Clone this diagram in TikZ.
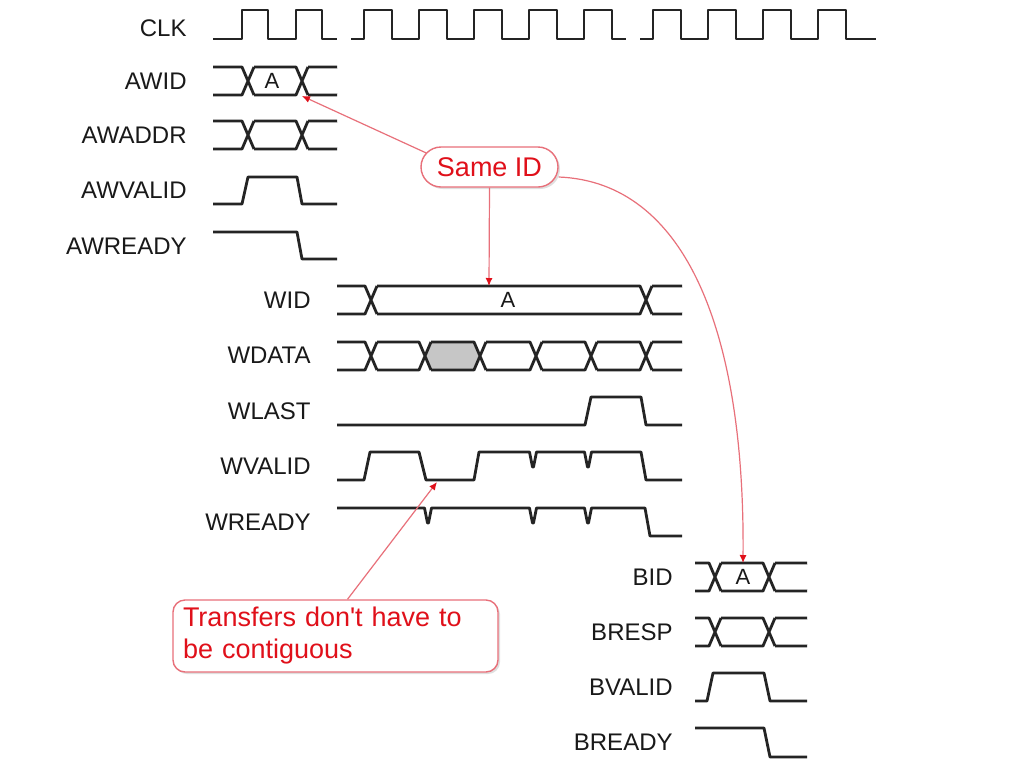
\documentclass[tikz,border=0pt]{standalone}
\usepackage{fontspec}
\setmainfont{Liberation Sans}
\usepackage{xcolor}
\usetikzlibrary{arrows.meta, shadows}

\definecolor{wave}{HTML}{242424}
\definecolor{notered}{HTML}{E0101A}
\definecolor{noteline}{HTML}{E8707A}

% bus lane: #1 top y, #2 start x, #3 end x, #4 crossings
\newcommand{\wavebus}[4]{%
  \begin{scope}
    \clip (#2,#1-4) rectangle (#3,#1+32);
    \foreach \c [remember=\c as \p (initially #2-6)] in {#4,#3+7}
      \draw[sig] (\p+6,#1) -- (\c-6,#1) -- (\c+6,#1+28)
                 (\p+6,#1+28) -- (\c-6,#1+28) -- (\c+6,#1);
  \end{scope}}

\begin{document}
\begin{tikzpicture}[
    x=0.5pt, y=-0.5pt,
    sig/.style={draw=wave, line width=1.4pt, line join=round},
    lbl/.style={anchor=east, inner sep=0pt, text=black!90, font=\fontsize{12}{14}\selectfont},
    val/.style={inner sep=0pt, text=black!90, font=\fontsize{11}{13}\selectfont},
    note/.style={draw=noteline, line width=0.7pt, fill=white, text=notered, rounded corners=10pt,
                 font=\fontsize{13.5}{16}\selectfont,
                 drop shadow={opacity=0.25, shadow xshift=1pt, shadow yshift=-1pt}},
    pointer/.style={draw=noteline, line width=0.6pt, -{Latex[length=4pt, width=3.5pt, color=notered]}}
]
    \fill[white] (0,0) rectangle (1029,767);
    \useasboundingbox (0,0) rectangle (1029,767);

    % signal names
    \node[lbl] (clk) at (187,28) {CLK};
    \node[lbl] (awid) at (187,81) {AWID};
    \node[lbl] (awaddr) at (187,135) {AWADDR};
    \node[lbl] (awvalid) at (187,190) {AWVALID};
    \node[lbl] (awready) at (187,246) {AWREADY};
    \node[lbl] (wid) at (311,300) {WID};
    \node[lbl] (wdata) at (311,355) {WDATA};
    \node[lbl] (wlast) at (311,411) {WLAST};
    \node[lbl] (wvalid) at (311,466) {WVALID};
    \node[lbl] (wready) at (311,522) {WREADY};
    \node[lbl] (bid) at (673,577) {BID};
    \node[lbl] (bresp) at (673,632) {BRESP};
    \node[lbl] (bvalid) at (673,687) {BVALID};
    \node[lbl] (bready) at (673,742) {BREADY};

    % clock
    \draw[sig] (213,39) foreach \r in {242,296} {-- (\r,39) -- (\r,10) -- (\r+26,10) -- (\r+26,39)} -- (337,39);
    \draw[sig] (351,39) foreach \r in {364,419,474,529,584} {-- (\r,39) -- (\r,10) -- (\r+28,10) -- (\r+28,39)} -- (626,39);
    \draw[sig] (640,39) foreach \r in {653,708,763,818} {-- (\r,39) -- (\r,10) -- (\r+28,10) -- (\r+28,39)} -- (876,39);

    % write address channel
    \wavebus{67}{213}{337}{248,302}
    \wavebus{121}{213}{337}{248,302}
    \draw[sig] (213,204) -- (242,204) -- (248,177) -- (297,177) -- (302,204) -- (337,204);
    \draw[sig] (213,232) -- (297,232) -- (302,259) -- (337,259);
    \node[val] (awidval) at (272,81) {A};

    % write data channel
    \fill[gray!45] (425,355) -- (431,342) -- (474,342) -- (480,355) -- (474,370) -- (431,370) -- cycle;
    \wavebus{286}{337}{682}{371,646}
    \wavebus{342}{337}{682}{371,425,480,536,591,646}
    \draw[sig] (337,425) -- (585,425) -- (591,397) -- (641,397) -- (646,425) -- (682,425);
    \draw[sig] (337,480) -- (364,480) -- (370,452) -- (419,452) -- (426,480) -- (474,480) -- (479,452)
        -- (529.5,452) -- (532.5,467) -- (533.5,467) -- (536.5,452)
        -- (584.5,452) -- (587.5,467) -- (588.5,467) -- (591.5,452)
        -- (641,452) -- (646,480) -- (682,480);
    \draw[sig] (337,508) -- (424.5,508) -- (427.5,523) -- (428.5,523) -- (431.5,508)
        -- (529.5,508) -- (532.5,523) -- (533.5,523) -- (536.5,508)
        -- (584.5,508) -- (587.5,523) -- (588.5,523) -- (591.5,508)
        -- (645,508) -- (650,536) -- (682,536);
    \node[val] (widval) at (508,300) {A};

    % write response channel
    \wavebus{563}{695}{807}{715,769}
    \wavebus{618}{695}{807}{715,769}
    \draw[sig] (695,701) -- (707,701) -- (713,673) -- (764,673) -- (770,701) -- (807,701);
    \draw[sig] (695,728) -- (764,728) -- (770,757) -- (807,757);
    \node[val] (bidval) at (743,577) {A};

    % callouts
    \node[note, minimum width=68.5pt, minimum height=20pt] (sameid) at (489.5,167) {Same ID};
    \node[note, rounded corners=6pt, text width=152.5pt, inner xsep=5pt, minimum height=36pt, align=left]
        (gapnote) at (335.5,636) {Transfers don\textquotesingle t have to\\be contiguous};

    \coordinate (awidtip) at (302,96);
    \coordinate (widtip) at (489,286);
    \coordinate (bidtip) at (743,563);
    \coordinate (wvalidtip) at (437,482);

    \draw[pointer] ([xshift=3pt, yshift=7pt]sameid.west) -- (awidtip);
    \draw[pointer] (sameid.south) -- (widtip);
    \draw[pointer] ([yshift=-5pt]sameid.east) .. controls (685,182) and (745,330) .. (bidtip);
    \draw[pointer] ([xshift=6pt]gapnote.north) -- (wvalidtip);
\end{tikzpicture}
\end{document}
